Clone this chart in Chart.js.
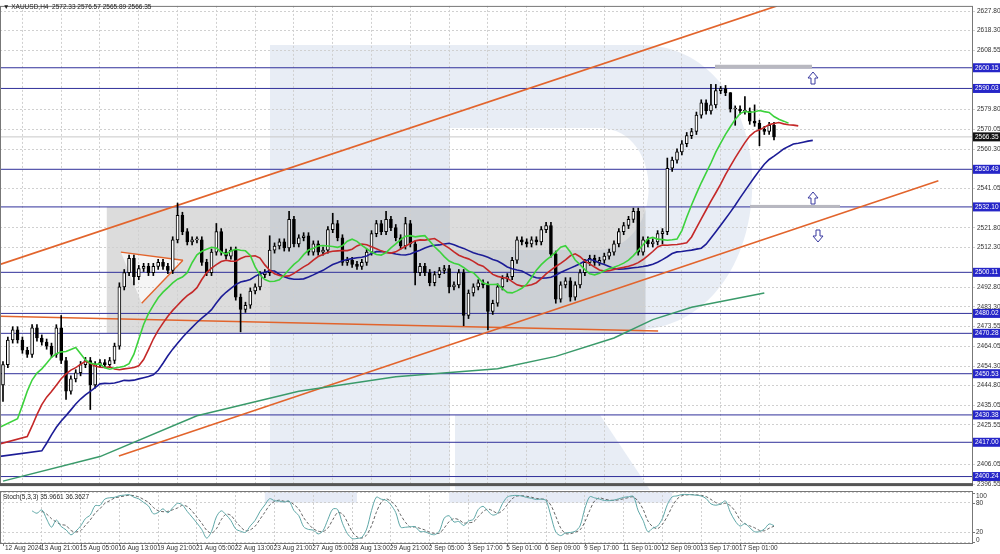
<!DOCTYPE html>
<html><head><meta charset="utf-8">
<script src="https://cdn.jsdelivr.net/npm/chart.js@4.4.1/dist/chart.umd.min.js"></script>
<style>
html,body{margin:0;padding:0;background:#fff;overflow:hidden}
#w1{position:absolute;left:0;top:0;width:1000px;height:490px}
#w2{position:absolute;left:0;top:490px;width:1000px;height:64px}
</style></head><body>
<div id="w1"><canvas id="c1"></canvas></div>
<div id="w2"><canvas id="c2"></canvas></div>
<script>
// ---- data ----
const closes = [2455,2467,2472,2467,2462,2460,2473,2468,2466,2464,2460,2473,2457,2442,2448,2451,2455,2457,2445,2455,
2456,2455,2457,2464,2493,2500,2507,2498,2502,2503,2500,2503,2505,2503,2501,2516,2528,2520,2515,2516,
2516,2505,2500,2510,2520,2510,2508,2511,2488,2482,2484,2491,2493,2499,2500,2511,2513,2515,2512,2526,
2514,2517,2518,2510,2514,2510,2511,2521,2524,2517,2505,2506,2504,2503,2505,2510,2519,2524,2520,2526,
2522,2517,2513,2524,2514,2500,2503,2500,2495,2499,2501,2502,2493,2494,2500,2479,2490,2493,2495,2494,
2481,2485,2493,2497,2498,2506,2516,2515,2514,2516,2515,2521,2523,2509,2487,2494,2496,2488,2494,2500,
2505,2507,2505,2506,2508,2510,2514,2520,2523,2526,2530,2510,2516,2514,2515,2519,2520,2551,2555,2559,
2563,2567,2569,2577,2583,2579,2582,2589,2590,2588,2580,2580,2579,2579,2574,2573,2570,2569,2572,2566.35];
const firstOpen = 2445;
const wickHigh = {12:2479,24:2495,36:2534,44:2524,55:2518,59:2530,68:2529,79:2530,83:2527,137:2556,146:2592,147:2592,148:2591,150:2588,153:2586,155:2582};
const wickLow  = {0:2437,13:2438,18:2433,27:2494,49:2471,85:2494,92:2490,95:2474,100:2472,114:2485,117:2486,136:2514,151:2572,156:2562};
const defaultWick = 1.5;
const xLabels = ["12 Aug 2024","13 Aug 21:00","15 Aug 05:00","16 Aug 13:00","19 Aug 21:00","21 Aug 05:00","22 Aug 13:00","23 Aug 21:00","27 Aug 05:00","28 Aug 13:00","29 Aug 21:00","2 Sep 05:00","3 Sep 17:00","5 Sep 01:00","6 Sep 09:00","9 Sep 17:00","11 Sep 01:00","12 Sep 09:00","13 Sep 17:00","17 Sep 01:00"];
const labelStep = 8;
const priceTicks = [2627.80,2618.30,2608.55,2579.80,2570.05,2560.30,2541.05,2521.80,2512.30,2492.80,2483.30,2473.55,2464.05,2454.30,2444.80,2435.05,2425.55,2406.05,2396.55];
const levels = [2600.15,2590.03,2550.49,2532.10,2500.11,2480.02,2470.28,2450.53,2430.38,2417.00,2400.24];
const lastPrice = 2566.35;
const ma200Idx = [0,20,40,61,81,102,114,126,134,142,157];
const ma200Val = [2398,2410,2430,2442,2449,2453,2459,2468,2477,2483,2490];
const trendUpper = [[-0.6,2504],[159.6,2630.4]];
const trendLower = [[23.9,2410.3],[192.9,2544.9]];
const trendFlat  = [[-0.6,2478.6],[135.1,2471.4]];
const triTop = [[24.3,2510],[37.1,2506]];
const triLow = [[28.6,2485],[37.1,2506]];
const seeds = {jaw:2410, teeth:2416, lips:2424};
const stochShade = [[54,73],[92,138]];
const header = "\u25BC XAUUSD,H4  2572.33 2576.57 2565.89 2566.35";
const stochTitle = "Stoch(5,3,3) 35.9661 36.3627";
const stochTicks = [100,80,20,0];

// ---- derived ----
const n = closes.length;
const opens = closes.map((c,i)=> i===0?firstOpen:closes[i-1]);
const highs = closes.map((c,i)=> wickHigh[i]!==undefined?wickHigh[i]:Math.max(c,opens[i])+defaultWick);
const lows  = closes.map((c,i)=> wickLow[i]!==undefined?wickLow[i]:Math.min(c,opens[i])-defaultWick);
function smma(p,shift,seed){
  const out=[{x:-1,y:seed}]; let s=seed;
  for(let i=0;i<n;i++){ const m=(highs[i]+lows[i])/2; s=(s*(p-1)+m)/p; out.push({x:i+shift,y:s}); }
  return out;
}
const jaw=smma(13,8,seeds.jaw), teeth=smma(8,5,seeds.teeth), lips=smma(5,3,seeds.lips);
const K=[],D=[];
for(let i=0;i<n;i++){
  if(i<6){K.push(null);continue;}
  let num=0,den=0;
  for(let j=i-2;j<=i;j++){ let hh=-1e9,ll=1e9; for(let t=j-4;t<=j;t++){hh=Math.max(hh,highs[t]);ll=Math.min(ll,lows[t]);} num+=closes[j]-ll; den+=hh-ll; }
  K.push(den?num/den*100:50);
}
for(let i=0;i<n;i++){ if(i<8){D.push(null);continue;} D.push((K[i]+K[i-1]+K[i-2])/3); }

const AXW = 27;
const ppb = 771/(n-1);
const xMin = -3/ppb, xMax = xMin + (1000-AXW)/ppb;
const FONT = "'Liberation Sans', Arial, sans-serif";
const ORANGE = '#e2642c', NAVY='#30309a';
const GRID = '#d0d0d0';

const xTickVals = xLabels.map((_,k)=>k*labelStep);
const xScale = {type:'linear',min:xMin,max:xMax,offset:false,
  afterBuildTicks:s=>{s.ticks=xTickVals.map(v=>({value:v}));},
  ticks:{display:false},
  grid:{color:GRID,lineWidth:1,drawTicks:false,tickLength:0},
  border:{display:false,dash:[2,2]}};

const pt = a=>a.map(p=>({x:p[0],y:p[1]}));
const lineDs=(data,color,w,order,extra)=>Object.assign({type:'line',data,borderColor:color,borderWidth:w,pointRadius:0,fill:false,tension:0,order},extra||{});

const datasets=[];
levels.forEach(v=>datasets.push(lineDs([{x:xMin,y:v},{x:xMax,y:v}],NAVY,1,20)));
datasets.push(lineDs([{x:xMin,y:lastPrice},{x:xMax,y:lastPrice}],'#c8c8c8',1,19));
datasets.push(lineDs(pt(trendUpper),ORANGE,1.6,8));
datasets.push(lineDs(pt(trendLower),ORANGE,1.6,8));
datasets.push(lineDs(pt(trendFlat),ORANGE,1.6,8));
datasets.push(lineDs(pt(triTop),ORANGE,1.4,8));
datasets.push(lineDs(pt(triLow),ORANGE,1.4,8));
datasets.push(lineDs(ma200Idx.map((x,k)=>({x,y:ma200Val[k]})),'#3a9a6a',1.5,3));
datasets.push({type:'bar',data:closes.map((c,i)=>({x:i,y:[lows[i],highs[i]]})),backgroundColor:'#000',barThickness:1,grouped:false,order:5});
datasets.push({type:'bar',data:closes.map((c,i)=>({x:i,y:[opens[i],c]})),backgroundColor:closes.map((c,i)=>c>=opens[i]?'#fff':'#000'),borderColor:'#000',borderWidth:1,borderSkipped:false,barThickness:3,minBarLength:1,grouped:false,order:4});
datasets.push(lineDs(jaw,'#1c1c96',1.6,2));
datasets.push(lineDs(teeth,'#c42828',1.6,1));
datasets.push(lineDs(lips,'#3cd23c',1.6,0));

const bgPlugin={id:'bg',beforeDraw(ch){
  const c=ch.ctx,x=ch.scales.x,y=ch.scales.y;
  c.save();c.fillStyle='#fff';c.fillRect(0,0,ch.width,ch.height);
  c.fillStyle='rgba(205,214,232,0.45)';
  c.fillRect(270,45,180,445);
  c.beginPath();c.moveTo(450,45);c.lineTo(640,45);c.bezierCurveTo(790,45,790,320,640,330);c.lineTo(450,330);c.lineTo(450,250);c.lineTo(600,250);c.bezierCurveTo(665,245,665,130,600,128);c.lineTo(450,128);c.closePath();c.fill();
  c.beginPath();c.moveTo(455,415);c.lineTo(600,415);c.lineTo(650,490);c.lineTo(455,490);c.closePath();c.fill();
  c.fillStyle='rgba(150,150,150,0.33)';
  const bx1=x.getPixelForValue(21.4),bx2=x.getPixelForValue(132.5),by1=y.getPixelForValue(2532.1),by2=y.getPixelForValue(2470.28);
  c.fillRect(bx1,by1,bx2-bx1,by2-by1);
  c.fillStyle='rgba(255,255,255,0.7)';
  c.beginPath();c.moveTo(x.getPixelForValue(triTop[0][0]),y.getPixelForValue(triTop[0][1]));c.lineTo(x.getPixelForValue(triTop[1][0]),y.getPixelForValue(triTop[1][1]));c.lineTo(x.getPixelForValue(triLow[0][0]),y.getPixelForValue(triLow[0][1]));c.closePath();c.fill();
  c.restore();
},
afterDatasetsDraw(ch){
  const c=ch.ctx,y=ch.scales.y,a=ch.chartArea;
  c.save();
  c.fillStyle='#b8b8c0';
  c.fillRect(715,y.getPixelForValue(2600.15)-3,97,4);
  c.fillRect(750,y.getPixelForValue(2532.10)-2,90,3);
  function arrow(cx,cy,up){c.save();c.translate(cx,cy);if(!up)c.scale(1,-1);c.beginPath();c.moveTo(0,-6);c.lineTo(5,0);c.lineTo(2,0);c.lineTo(2,6);c.lineTo(-2,6);c.lineTo(-2,0);c.lineTo(-5,0);c.closePath();c.fillStyle='#fff';c.fill();c.strokeStyle='#3a3aa0';c.lineWidth=1;c.stroke();c.restore();}
  arrow(813,78,true);arrow(813,198,true);arrow(818,236,false);
  c.strokeStyle='#777';c.lineWidth=1;c.strokeRect(a.left+0.5,a.top+0.5,a.right-a.left-1,a.bottom-a.top);
  c.fillStyle='#555';c.fillRect(a.left,a.bottom-1,a.right-a.left,3);
  c.font='6.5px '+FONT;c.textBaseline='middle';c.textAlign='left';
  levels.forEach(v=>{const py=y.getPixelForValue(v);c.fillStyle='#2626c8';c.fillRect(a.right,py-4.5,AXW,9);c.fillStyle='#fff';c.fillText(v.toFixed(2),a.right+2,py);});
  const lp=y.getPixelForValue(lastPrice);c.fillStyle='#111';c.fillRect(a.right,lp-4.5,AXW,9);c.fillStyle='#fff';c.fillText(lastPrice.toFixed(2),a.right+2,lp);
  c.fillStyle='#222';c.font='6.5px '+FONT;c.fillText(header,3,7);
  c.restore();
}};

new Chart(document.getElementById('c1'),{type:'bar',data:{datasets},
 options:{responsive:true,maintainAspectRatio:false,animation:false,
  layout:{padding:{top:2,bottom:0,left:0,right:0}},
  plugins:{legend:{display:false},tooltip:{enabled:false}},
  scales:{
   x:xScale,
   y:{position:'right',min:2396.55,max:2630.4,
     afterBuildTicks:s=>{s.ticks=priceTicks.map(v=>({value:v}));},
     afterFit:s=>{s.width=AXW;},
     ticks:{font:{size:6.5,family:FONT},color:'#333',padding:2,callback:v=>v.toFixed(2)},
     grid:{color:GRID,drawTicks:true,tickLength:2},border:{display:false,dash:[2,2]}}
  }},plugins:[bgPlugin]});

const stochPlugin={id:'st',beforeDraw(ch){const c=ch.ctx;c.save();c.fillStyle='#fff';c.fillRect(0,0,ch.width,ch.height);
  const a=ch.chartArea,x=ch.scales.x,y=ch.scales.y;c.fillStyle='rgba(210,218,238,0.55)';
  stochShade.forEach(r=>{const x1=x.getPixelForValue(r[0]),x2=x.getPixelForValue(r[1]);c.fillRect(x1,a.top,x2-x1,y.getPixelForValue(80)-a.top);});c.restore();},
 afterDraw(ch){const c=ch.ctx,a=ch.chartArea,x=ch.scales.x,y=ch.scales.y;c.save();c.strokeStyle='#777';c.strokeRect(a.left+0.5,a.top+0.5,a.right-a.left-1,a.bottom-a.top);
  c.fillStyle='#222';c.font='6.5px '+FONT;c.textBaseline='middle';c.textAlign='left';c.fillText(stochTitle,3,a.top+6);
  stochTicks.forEach(v=>{const py=y.getPixelForValue(v);c.fillStyle='#777';c.fillRect(a.right,Math.round(py),2,1);c.fillStyle='#333';c.fillText(String(v),a.right+3,Math.min(Math.max(py,a.top+5),a.bottom-3));});
  c.font='6.5px '+FONT;c.textBaseline='top';
  xTickVals.forEach((v,k)=>{const px=x.getPixelForValue(v);c.fillStyle='#777';c.fillRect(Math.round(px),a.bottom,1,3);c.fillStyle='#333';c.fillText(xLabels[k],px+(k===0?2:-1),a.bottom+2);});
  c.restore();}};

new Chart(document.getElementById('c2'),{type:'line',data:{datasets:[
  {data:K.map((v,i)=>({x:i,y:v})),borderColor:'#5fa8a8',borderWidth:1,pointRadius:0,tension:0.3},
  {data:D.map((v,i)=>({x:i,y:v})),borderColor:'#666',borderWidth:1,borderDash:[3,2],pointRadius:0,tension:0.3}
 ]},
 options:{responsive:true,maintainAspectRatio:false,animation:false,
  layout:{padding:{top:1,left:0,right:0,bottom:11}},
  plugins:{legend:{display:false},tooltip:{enabled:false}},
  scales:{
   x:Object.assign({},xScale,{display:true}),
   y:{position:'right',min:-2,max:104,afterBuildTicks:s=>{s.ticks=stochTicks.map(v=>({value:v}));},
     afterFit:s=>{s.width=AXW;},ticks:{display:false},
     grid:{color:GRID,drawTicks:false,tickLength:0},border:{display:false,dash:[2,2]}}
  }},plugins:[stochPlugin]});
</script></body></html>
